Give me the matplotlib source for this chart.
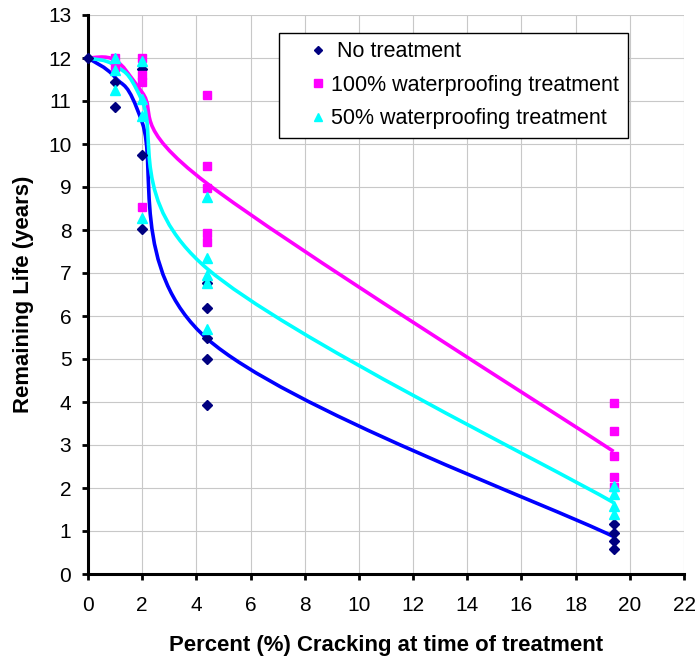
import numpy as np
import matplotlib.pyplot as plt
from matplotlib.path import Path
from matplotlib.patches import PathPatch
from matplotlib.lines import Line2D

plt.rcParams['font.family'] = ['Liberation Sans', 'DejaVu Sans']

# Observed remaining life at each cracking level
x_none = [0, 1, 1, 2, 2, 2, 4.4, 4.4, 4.4, 4.4, 4.4, 19.4, 19.4, 19.4, 19.4]
y_none = [12, 11.45, 10.87, 11.75, 9.75, 8.03, 6.77, 6.19, 5.49, 4.99, 3.93, 1.16, 0.95, 0.76, 0.57]

x_full = [1, 1, 2, 2, 2, 2, 4.4, 4.4, 4.4, 4.4, 4.4, 19.4, 19.4, 19.4, 19.4, 19.4]
y_full = [12.0, 11.8, 12.0, 11.6, 11.45, 8.54, 11.15, 9.49, 8.98, 7.93, 7.73, 3.98, 3.33, 2.74, 2.26, 2.03]

x_half = [1, 1, 1, 2, 2, 2, 2, 4.4, 4.4, 4.4, 4.4, 4.4, 19.4, 19.4, 19.4, 19.4]
y_half = [12.0, 11.72, 11.26, 11.94, 11.04, 10.64, 8.27, 8.77, 7.34, 6.95, 6.77, 5.69, 2.05, 1.85, 1.58, 1.4]

# Trend curve anchors (average life per cracking level)
trend_x = [0, 1, 2, 4.4, 19.4]
trend_none = [12, 11.55, 10.5, 5.47, 0.87]
trend_full = [12, 11.95, 11.2, 9.08, 2.85]
trend_half = [12, 11.82, 11.0, 7.1, 1.66]


def smooth_path(xs, ys):
    # Catmull-Rom style cubic bezier through the anchors
    p = np.column_stack([xs, ys]).astype(float)
    verts = [p[0]]
    codes = [Path.MOVETO]
    n = len(p)
    for i in range(n - 1):
        p0 = p[i - 1] if i > 0 else p[i]
        p1, p2 = p[i], p[i + 1]
        p3 = p[i + 2] if i + 2 < n else p[i + 1]
        c1 = p1 + (p2 - p0) / 6
        c2 = p2 - (p3 - p1) / 6
        verts += [c1, c2, p2]
        codes += [Path.CURVE4] * 3
    return Path(verts, codes)


fig = plt.figure(figsize=(6.96, 6.58), dpi=100)
ax = fig.add_axes([88 / 696, 84 / 658, 596 / 696, 559 / 658])

for ty, col in [(trend_none, '#0000FF'), (trend_full, '#FF00FF'), (trend_half, '#00FFFF')]:
    ax.add_patch(PathPatch(smooth_path(trend_x, ty), facecolor='none',
                           edgecolor=col, linewidth=2.6, zorder=2))

ax.plot(x_none, y_none, 'D', color='#000080', ms=5, ls='none', zorder=3, clip_on=False)
ax.plot(x_full, y_full, 's', color='#FF00FF', ms=6, ls='none', zorder=3, clip_on=False)
ax.plot(x_half, y_half, '^', color='#00FFFF', ms=6.5, ls='none', zorder=3, clip_on=False)

ax.set_xlim(0, 22)
ax.set_ylim(0, 13)
ax.set_xticks(np.arange(0, 23, 2))
ax.set_yticks(np.arange(0, 14, 1))
ax.grid(True, color='#c8c8c8', linewidth=0.8)
ax.set_axisbelow(True)

for s in ['top', 'right']:
    ax.spines[s].set_visible(False)
for s in ['left', 'bottom']:
    ax.spines[s].set_linewidth(2.2)
ax.tick_params(axis='both', direction='out', length=4, width=2, labelsize=15)
ax.tick_params(axis='x', pad=12)
ax.tick_params(axis='y', pad=8)

ax.set_xlabel('Percent (%) Cracking at time of treatment', fontsize=15.9,
              fontweight='bold', labelpad=14)
ax.set_ylabel('Remaining Life (years)', fontsize=15.9, fontweight='bold', labelpad=10)

handles = [
    Line2D([], [], marker='D', color='#000080', ms=4, ls='none'),
    Line2D([], [], marker='s', color='#FF00FF', ms=5.5, ls='none'),
    Line2D([], [], marker='^', color='#00FFFF', ms=6, ls='none'),
]
labels = [' No treatment', '100% waterproofing treatment', '50% waterproofing treatment']
leg = ax.legend(handles, labels, loc='upper left', bbox_to_anchor=(0.32, 0.968),
                borderaxespad=0, fontsize=15.5, handlelength=2.85, handletextpad=-0.8,
                labelspacing=0.58, borderpad=0.4, fancybox=False, framealpha=1)
leg.get_frame().set_edgecolor('black')
leg.get_frame().set_linewidth(1)

fig.savefig('out.png', dpi=100)
